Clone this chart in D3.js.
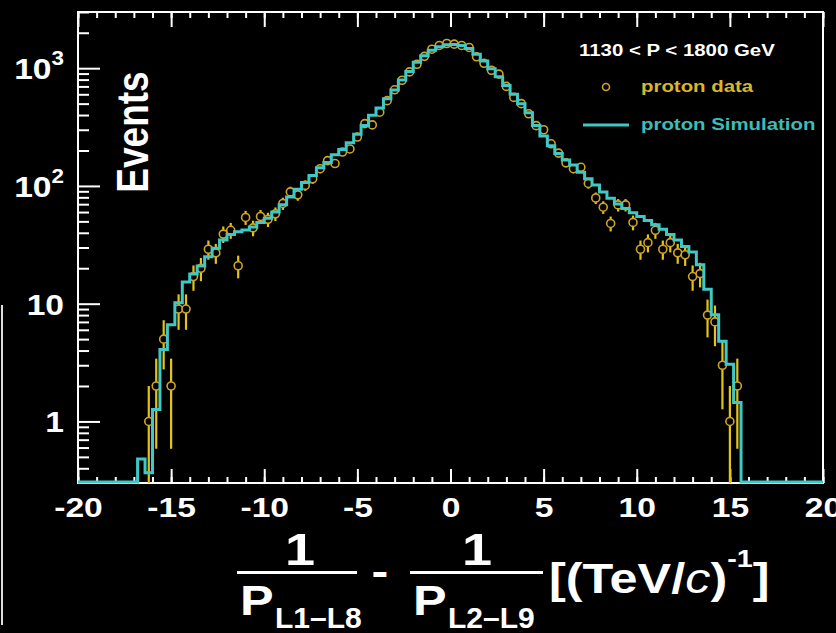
<!DOCTYPE html>
<html><head><meta charset="utf-8">
<script src="https://cdn.jsdelivr.net/npm/d3@7"></script>
<style>
html,body{margin:0;padding:0;background:#000;}
svg{display:block;font-family:"Liberation Sans",Arial,Helvetica,sans-serif;font-weight:bold;}
</style></head><body>
<svg id="c" width="836" height="633"></svg>
<script>
// ---- data (bin centres, bin width 0.4 (TeV/c)^-1) ----
const binCenters = [-16.6,-16.2,-15.8,-15.4,-15.0,-14.6,-14.2,-13.8,-13.4,-13.0,-12.6,-12.2,-11.8,-11.4,-11.0,-10.6,-10.2,-9.8,-9.4,-9.0,
  -8.6,-8.2,-7.8,-7.4,-7.0,-6.6,-6.2,-5.8,-5.4,-5.0,-4.6,-4.2,-3.8,-3.4,-3.0,-2.6,-2.2,-1.8,-1.4,-1.0,-0.6,-0.2,
  0.2,0.6,1.0,1.4,1.8,2.2,2.6,3.0,3.4,3.8,4.2,4.6,5.0,5.4,5.8,6.2,6.6,7.0,7.4,7.8,8.2,8.6,9.0,9.4,9.8,
  10.2,10.6,11.0,11.4,11.8,12.2,12.6,13.0,13.4,13.8,14.2,14.6,15.0,15.4];
const binWidth = 0.4;
const simValues = [0.47,0.36,1.24,4.0,6.5,10,15,17.5,20.5,24.5,29,34,38,40,41.5,44,48,52,59,68,
  79,92,105,120,140,155,180,200,228,270,320,390,450,540,640,780,920,1100,1250,1390,1490,1550,
  1560,1530,1440,1290,1130,970,830,700,590,490,410,320,260,215,185,163,148,128,113,100,87,77,69,63,58,
  54,50,46,42,38,34,30,27,21,13,7.9,4.7,3.0,1.42];
const dataCounts = [0,1,2,5,2,9,9,17,20,29,27,39,42,21,54,44,55,52,58,71,
  89,84,101,115,140,164,155,194,206,260,338,330,423,530,655,790,930,1080,1260,1450,1560,1620,
  1600,1560,1500,1250,1100,960,890,700,565,500,410,325,300,228,190,157,140,144,105,79,66,48,69,69,49,
  29,33,42,29,33,27,26,17,18,8,7,3,1,2];
const xTickValues = [-20,-15,-10,-5,0,5,10,15,20];
const xMinorValues = d3.range(-20,21,1);
const yTickValues = [1,10,100,1000];
const yMinorValues = [0.4,0.5,0.6,0.7,0.8,0.9,2,3,4,5,6,7,8,9,20,30,40,50,60,70,80,90,200,300,400,500,600,700,800,900,2000,3000];
const legendTitle = "1130 < P < 1800 GeV";
const seriesNames = ["proton data","proton Simulation"];

// ---- layout ----
const W=836,H=633;
const M = {left:78,right:823,top:12,bottom:483};
const SX = 1.2;           // horizontal stretch of text in the original picture
const WHITE="#ffffff", SIM="#3fc8c6", DATA_BAR="#e3c413", DATA_MK="#d1a420", DATA_TXT="#d8b82a", SIM_TXT="#3cbdb9";

const svg = d3.select('#c');
svg.append('rect').attr('width',W).attr('height',H).attr('fill','#000');

const x = d3.scaleLinear().domain([-20,20]).range([M.left,M.right]);
const yMin = 0.3;
const y = d3.scaleLog().domain([yMin,3000]).range([M.bottom,M.top]);
const yc = v => y(Math.max(v,yMin));

// ---- axes ----
function styleAxis(g){ g.select('.domain').remove(); g.selectAll('line').attr('stroke',WHITE).attr('stroke-width',2); }
const gxB = svg.append('g').attr('transform',`translate(0,${M.bottom})`)
  .call(d3.axisBottom(x).tickValues(xMinorValues).tickSize(-6).tickFormat(''));
styleAxis(gxB);
const gxBM = svg.append('g').attr('transform',`translate(0,${M.bottom})`)
  .call(d3.axisBottom(x).tickValues(xTickValues).tickSize(-14).tickPadding(14).tickFormat(d=>d));
styleAxis(gxBM);
gxBM.selectAll('text').attr('fill',WHITE).attr('font-size',28).attr('font-weight','bold')
  .attr('font-family','"Liberation Sans",Arial,sans-serif').attr('transform',`scale(${SX},1)`);
const gxT = svg.append('g').attr('transform',`translate(0,${M.top})`)
  .call(d3.axisTop(x).tickValues(xMinorValues).tickSize(-6).tickFormat(''));
styleAxis(gxT);
const gxTM = svg.append('g').attr('transform',`translate(0,${M.top})`)
  .call(d3.axisTop(x).tickValues(xTickValues).tickSize(-15).tickFormat(''));
styleAxis(gxTM);
const gyM = svg.append('g').attr('transform',`translate(${M.left},0)`)
  .call(d3.axisLeft(y).tickValues(yMinorValues).tickSize(-11).tickFormat(''));
styleAxis(gyM);
const gyMaj = svg.append('g').attr('transform',`translate(${M.left},0)`)
  .call(d3.axisLeft(y).tickValues(yTickValues).tickSize(-22).tickFormat(''));
styleAxis(gyMaj);

// frame
svg.append('rect').attr('x',M.left).attr('y',M.top).attr('width',M.right-M.left).attr('height',M.bottom-M.top)
  .attr('fill','none').attr('stroke',WHITE).attr('stroke-width',2);

// y labels
yTickValues.forEach(v=>{
  const e = Math.round(Math.log10(v));
  const t = svg.append('text').attr('transform',`translate(64,${y(v)+11}) scale(1.12,1)`)
    .attr('text-anchor','end').attr('fill',WHITE).attr('font-size',30);
  if(e<=1){ t.text(String(v)); }
  else { t.append('tspan').text('10'); t.append('tspan').attr('font-size',20).attr('dy',-14).text(String(e)); }
});

// Events
svg.append('text').attr('transform',`translate(148,132) scale(${SX},1) rotate(-90)`)
  .attr('text-anchor','middle').attr('fill',WHITE).attr('font-size',37).text('Events');

// ---- data points ----
const gData = svg.append('g');
binCenters.forEach((c,i)=>{
  const n = dataCounts[i]; if(!(n>0)) return;
  const e = Math.sqrt(n), cx = x(c), cy = y(n), r = 4;
  const yt = y(n+e), yb = yc(n-e);
  if(cy-r>yt) gData.append('line').attr('x1',cx).attr('x2',cx).attr('y1',yt).attr('y2',cy-r).attr('stroke',DATA_BAR).attr('stroke-width',2.2);
  if(yb>cy+r) gData.append('line').attr('x1',cx).attr('x2',cx).attr('y1',cy+r).attr('y2',yb).attr('stroke',DATA_BAR).attr('stroke-width',2.2);
  gData.append('circle').attr('cx',cx).attr('cy',cy).attr('r',r).attr('fill','#000').attr('stroke',DATA_MK).attr('stroke-width',1.6);
});

// ---- simulation histogram ----
const pts = [[-20,0],[binCenters[0]-binWidth/2,0]];
binCenters.forEach((c,i)=>{ pts.push([c-binWidth/2,simValues[i]],[c+binWidth/2,simValues[i]]); });
pts.push([binCenters[binCenters.length-1]+binWidth/2,0],[20,0]);
svg.append('path').attr('d',d3.line().x(d=>x(d[0])).y(d=>yc(d[1])-1)(pts))
  .attr('fill','none').attr('stroke',SIM).attr('stroke-width',3).attr('stroke-linejoin','miter');

// ---- legend ----
svg.append('text').attr('transform',`translate(579,56) scale(${SX},1)`).attr('fill',WHITE).attr('font-size',17).text(legendTitle);
svg.append('circle').attr('cx',606).attr('cy',87).attr('r',3.5).attr('fill','#000').attr('stroke',DATA_MK).attr('stroke-width',1.6);
svg.append('text').attr('transform',`translate(641,92) scale(${SX},1)`).attr('fill',DATA_TXT).attr('font-size',17).text(seriesNames[0]);
svg.append('line').attr('x1',583).attr('x2',629).attr('y1',125).attr('y2',125).attr('stroke',SIM).attr('stroke-width',3);
svg.append('text').attr('transform',`translate(641,130) scale(${SX},1)`).attr('fill',SIM_TXT).attr('font-size',17).text(seriesNames[1]);

// ---- x axis title ----
const gt = svg.append('g').attr('fill',WHITE);
function frac(x0,x1,numX,sub){
  gt.append('text').attr('transform',`translate(${numX},565) scale(${SX},1)`).attr('text-anchor','middle').attr('font-size',45).text('1');
  gt.append('rect').attr('x',x0).attr('y',571).attr('width',x1-x0).attr('height',3);
  gt.append('text').attr('transform',`translate(${x0+3},615) scale(${SX},1)`).attr('font-size',42).text('P');
  gt.append('text').attr('transform',`translate(${x0+38},628)`).attr('font-size',30).text(sub);
}
frac(237,357,300,'L1–L8');
gt.append('text').attr('transform',`translate(380,586) scale(${SX},1)`).attr('text-anchor','middle').attr('font-size',42).text('-');
frac(410,543,477,'L2–L9');
const unit = gt.append('text').attr('transform',`translate(549,593) scale(${SX},1)`).attr('font-size',42);
unit.append('tspan').text('[(TeV/');
unit.append('tspan').attr('font-style','italic').attr('font-weight','normal').text('c');
unit.append('tspan').text(')');
unit.append('tspan').attr('font-size',24).attr('dy',-26).text('-1');
unit.append('tspan').attr('dy',26).text(']');

// left edge line
svg.append('line').attr('x1',2).attr('x2',2).attr('y1',305).attr('y2',625).attr('stroke','#dddddd').attr('stroke-width',2);
</script>
</body></html>
